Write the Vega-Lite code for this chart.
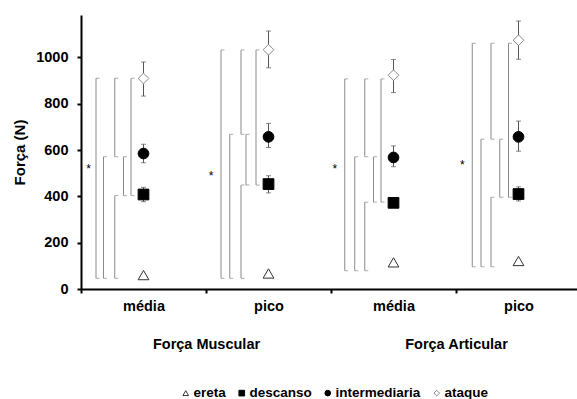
{
  "$schema": "https://vega.github.io/schema/vega-lite/v6.json",
  "width": 500,
  "height": 274,
  "padding": {"left": 12, "top": 15, "right": 0, "bottom": 0},
  "background": "white",
  "config": {
    "view": {"stroke": null},
    "font": "Liberation Sans",
    "axis": {"grid": false, "labelFont": "Liberation Sans", "titleFont": "Liberation Sans", "labelColor": "black", "titleColor": "black", "labelFontWeight": "bold", "titleFontWeight": "bold"}
  },
  "datasets": {
    "points": [
      {"grp": 0.5, "cond": "ereta", "mean": 60, "lo": 56, "hi": 64},
      {"grp": 0.5, "cond": "descanso", "mean": 408, "lo": 377, "hi": 439},
      {"grp": 0.5, "cond": "intermediaria", "mean": 585, "lo": 545, "hi": 625},
      {"grp": 0.5, "cond": "ataque", "mean": 909, "lo": 833, "hi": 980},
      {"grp": 1.5, "cond": "ereta", "mean": 67, "lo": 63, "hi": 71},
      {"grp": 1.5, "cond": "descanso", "mean": 453, "lo": 415, "hi": 489},
      {"grp": 1.5, "cond": "intermediaria", "mean": 657, "lo": 611, "hi": 715},
      {"grp": 1.5, "cond": "ataque", "mean": 1033, "lo": 955, "hi": 1114},
      {"grp": 2.5, "cond": "ereta", "mean": 115, "lo": 111, "hi": 119},
      {"grp": 2.5, "cond": "descanso", "mean": 372, "lo": 355, "hi": 391},
      {"grp": 2.5, "cond": "intermediaria", "mean": 568, "lo": 528, "hi": 618},
      {"grp": 2.5, "cond": "ataque", "mean": 923, "lo": 848, "hi": 991},
      {"grp": 3.5, "cond": "ereta", "mean": 121, "lo": 117, "hi": 125},
      {"grp": 3.5, "cond": "descanso", "mean": 410, "lo": 380, "hi": 441},
      {"grp": 3.5, "cond": "intermediaria", "mean": 657, "lo": 595, "hi": 725},
      {"grp": 3.5, "cond": "ataque", "mean": 1074, "lo": 992, "hi": 1157}
    ],
    "brackets": [
      {"pos": 0.12, "lo": 46, "hi": 910},
      {"pos": 0.18, "lo": 46, "hi": 571},
      {"pos": 0.27, "lo": 571, "hi": 910},
      {"pos": 0.27, "lo": 46, "hi": 403},
      {"pos": 0.34, "lo": 403, "hi": 571},
      {"pos": 0.40, "lo": 403, "hi": 910},
      {"pos": 1.12, "lo": 46, "hi": 1032},
      {"pos": 1.19, "lo": 46, "hi": 668},
      {"pos": 1.28, "lo": 668, "hi": 1032},
      {"pos": 1.28, "lo": 46, "hi": 449},
      {"pos": 1.32, "lo": 449, "hi": 668},
      {"pos": 1.40, "lo": 449, "hi": 1032},
      {"pos": 2.11, "lo": 79, "hi": 907},
      {"pos": 2.19, "lo": 79, "hi": 571},
      {"pos": 2.27, "lo": 571, "hi": 907},
      {"pos": 2.27, "lo": 79, "hi": 375},
      {"pos": 2.34, "lo": 375, "hi": 571},
      {"pos": 2.40, "lo": 375, "hi": 907},
      {"pos": 3.13, "lo": 96, "hi": 1061},
      {"pos": 3.20, "lo": 96, "hi": 647},
      {"pos": 3.28, "lo": 647, "hi": 1061},
      {"pos": 3.28, "lo": 96, "hi": 396},
      {"pos": 3.35, "lo": 396, "hi": 647},
      {"pos": 3.42, "lo": 396, "hi": 1061}
    ],
    "stars": [
      {"pos": 0.06, "y": 532, "t": "*"},
      {"pos": 1.04, "y": 499, "t": "*"},
      {"pos": 2.03, "y": 532, "t": "*"},
      {"pos": 3.05, "y": 549, "t": "*"}
    ]
  },
  "layer": [
    {
      "layer": [
        {
          "data": {"name": "brackets"},
          "mark": {"type": "rule", "color": "#8a8a8a", "strokeWidth": 1},
          "encoding": {
            "x": {"field": "pos", "type": "quantitative", "scale": {"domain": [0, 4], "nice": false, "zero": false},
              "axis": {"orient": "bottom", "title": null, "values": [0, 0.5, 1, 1.5, 2, 2.5, 3, 3.5, 4],
                "labelExpr": "datum.value == 0.5 || datum.value == 2.5 ? 'média' : (datum.value == 1.5 || datum.value == 3.5 ? 'pico' : '')",
                "tickOpacity": {"condition": {"test": "datum.value % 1 == 0", "value": 1}, "value": 0},
                "labelOverlap": false, "labelFlush": false, "tickSize": 4, "tickWidth": 2, "tickColor": "black",
                "domainColor": "black", "domainWidth": 2, "labelFontSize": 14.5, "labelPadding": 6}},
            "y": {"field": "lo", "type": "quantitative", "scale": {"domain": [0, 1183], "nice": false},
              "axis": {"title": "Força (N)", "values": [0, 200, 400, 600, 800, 1000], "format": "d", "tickSize": 4, "tickWidth": 2, "tickColor": "black",
                "domainColor": "black", "domainWidth": 2, "labelFontSize": 14.5, "titleFontSize": 15, "labelPadding": 9, "titlePadding": 8}},
            "y2": {"field": "hi"}
          }
        },
        {
          "data": {"name": "brackets"},
          "mark": {"type": "tick", "orient": "horizontal", "color": "#8a8a8a", "size": 3.5, "thickness": 1, "xOffset": 1.75},
          "encoding": {
            "x": {"field": "pos", "type": "quantitative"},
            "y": {"field": "lo", "type": "quantitative"}
          }
        },
        {
          "data": {"name": "brackets"},
          "mark": {"type": "tick", "orient": "horizontal", "color": "#8a8a8a", "size": 3.5, "thickness": 1, "xOffset": 1.75},
          "encoding": {
            "x": {"field": "pos", "type": "quantitative"},
            "y": {"field": "hi", "type": "quantitative"}
          }
        },
        {
          "data": {"name": "points"},
          "mark": {"type": "rule", "color": "#555555", "strokeWidth": 1},
          "encoding": {
            "x": {"field": "grp", "type": "quantitative"},
            "y": {"field": "lo", "type": "quantitative"},
            "y2": {"field": "hi"}
          }
        },
        {
          "data": {"name": "points"},
          "mark": {"type": "tick", "orient": "horizontal", "color": "#555555", "size": 5, "thickness": 1},
          "encoding": {
            "x": {"field": "grp", "type": "quantitative"},
            "y": {"field": "lo", "type": "quantitative"}
          }
        },
        {
          "data": {"name": "points"},
          "mark": {"type": "tick", "orient": "horizontal", "color": "#555555", "size": 5, "thickness": 1},
          "encoding": {
            "x": {"field": "grp", "type": "quantitative"},
            "y": {"field": "hi", "type": "quantitative"}
          }
        },
        {
          "data": {"name": "points"},
          "mark": {"type": "point", "size": 115, "strokeWidth": 1, "opacity": 1},
          "encoding": {
            "x": {"field": "grp", "type": "quantitative"},
            "y": {"field": "mean", "type": "quantitative"},
            "shape": {"field": "cond", "type": "nominal",
              "scale": {"domain": ["ereta", "descanso", "intermediaria", "ataque"], "range": ["triangle-up", "square", "circle", "diamond"]},
              "legend": {"title": null, "orient": "none", "legendX": 98, "legendY": 371, "direction": "horizontal",
                "labelFont": "Liberation Sans", "labelFontWeight": "bold", "labelFontSize": 13.5, "labelColor": "black",
                "symbolSize": 32, "labelOffset": 1, "columnPadding": 9, "symbolStrokeWidth": 1}},
            "fill": {"field": "cond", "type": "nominal",
              "scale": {"domain": ["ereta", "descanso", "intermediaria", "ataque"], "range": ["white", "black", "black", "white"]}},
            "stroke": {"field": "cond", "type": "nominal",
              "scale": {"domain": ["ereta", "descanso", "intermediaria", "ataque"], "range": ["#333333", "black", "black", "#888888"]}}
          }
        }
      ]
    },
    {
      "data": {"name": "stars"},
      "mark": {"type": "text", "fontSize": 12, "color": "black", "baseline": "middle", "dy": 3},
      "encoding": {
        "x": {"field": "pos", "type": "quantitative",
          "axis": {"orient": "bottom", "title": null, "values": [1, 3],
            "labelExpr": "datum.value == 1 ? 'Força Muscular' : 'Força Articular'",
            "ticks": false, "tickSize": 0, "domain": false, "labelPadding": 48, "labelFontSize": 14.5,
            "labelOverlap": false, "labelFlush": false}},
        "y": {"field": "y", "type": "quantitative"},
        "text": {"field": "t"}
      }
    }
  ],
  "resolve": {"axis": {"x": "independent"}}
}
